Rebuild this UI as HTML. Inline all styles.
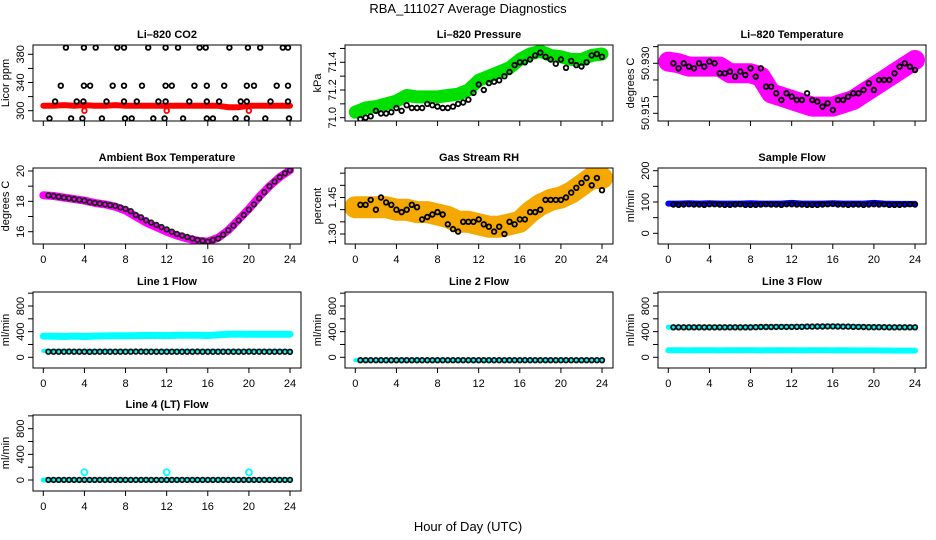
<!DOCTYPE html>
<html><head><meta charset="utf-8"><style>
html,body{margin:0;padding:0;background:#fff;}
svg{display:block;font-family:"Liberation Sans",sans-serif;}
</style></head><body>
<svg id="chart" width="936" height="540" viewBox="0 0 936 540">
<text x="468" y="13" text-anchor="middle" font-size="13">RBA_111027  Average Diagnostics</text>
<text x="468" y="531" text-anchor="middle" font-size="13">Hour of Day (UTC)</text>
</svg>
<script>
const hours = [0,1,2,3,4,5,6,7,8,9,10,11,12,13,14,15,16,17,18,19,20,21,22,23,24];
const halfHours = [0.5,1,1.5,2,2.5,3,3.5,4,4.5,5,5.5,6,6.5,7,7.5,8,8.5,9,9.5,10,10.5,11,11.5,12,12.5,13,13.5,14,14.5,15,15.5,16,16.5,17,17.5,18,18.5,19,19.5,20,20.5,21,21.5,22,22.5,23,23.5,24];
const xTicks = [0,4,8,12,16,20,24];

// CO2
const co2Band = [307,307,308,307,308,307,307,308,307,307,307,307,307,307,307,307,307,307,305,305,307,307,307,307,307];
const co2HighHours = [2.2,3.95,5.1,7.2,7.85,10.2,11.9,13.1,15.2,15.8,18.1,19.9,21.1,23.3,23.8];
const co2MidHours = [1.7,3.95,4.55,6.75,7.85,9.6,11.9,12.5,14.7,15.9,17.6,19.8,20.5,22.7,23.8];
const co2LowHours = [1.15,3.25,3.9,6.15,7.85,9.1,11.2,11.9,14.2,15.9,17.1,19.2,19.8,22.1,23.8];
const co2BottomHours = [0.6,2.7,3.8,5.7,7.95,8.6,10.7,11.8,13.6,15.9,16.5,18.7,19.8,21.6,23.9];
const co2Levels = [389.5,335.5,313,289];
const co2RedHours = [4,12,20];
const co2RedValue = 300;

// Pressure
const presBand = [71.04,71.07,71.08,71.10,71.12,71.16,71.15,71.15,71.15,71.16,71.17,71.20,71.27,71.30,71.33,71.36,71.42,71.46,71.48,71.45,71.44,71.42,71.42,71.45,71.46];
const presPts = [70.99,71.0,71.01,71.05,71.03,71.03,71.04,71.07,71.05,71.09,71.07,71.07,71.07,71.1,71.09,71.08,71.07,71.07,71.08,71.1,71.11,71.13,71.18,71.24,71.2,71.25,71.26,71.27,71.3,71.33,71.38,71.4,71.4,71.42,71.45,71.47,71.44,71.42,71.39,71.42,71.36,71.41,71.38,71.37,71.4,71.45,71.46,71.44];

// Li-820 temperature
const ltBand = [50.9305,50.930,50.929,50.929,50.929,50.929,50.927,50.927,50.927,50.926,50.921,50.920,50.919,50.918,50.917,50.917,50.917,50.918,50.919,50.921,50.923,50.925,50.927,50.929,50.931];
const ltPts = [50.930,50.9285,50.930,50.929,50.9285,50.930,50.929,50.9305,50.930,50.927,50.927,50.9275,50.926,50.9275,50.9265,50.9285,50.926,50.9285,50.923,50.923,50.921,50.919,50.921,50.920,50.919,50.919,50.921,50.919,50.9185,50.917,50.918,50.916,50.919,50.919,50.920,50.921,50.921,50.922,50.924,50.922,50.925,50.925,50.925,50.927,50.929,50.930,50.929,50.928];

// Ambient box temperature
const ambBand = [18.4,18.35,18.25,18.15,18.05,17.9,17.8,17.65,17.4,17.0,16.6,16.3,16.0,15.75,15.55,15.4,15.35,15.6,16.1,16.8,17.5,18.3,19.0,19.6,20.05];
const ambPts = [18.4,18.35,18.3,18.25,18.2,18.15,18.1,18.05,17.95,17.9,17.85,17.8,17.75,17.7,17.6,17.5,17.35,17.1,16.95,16.75,16.6,16.45,16.3,16.15,16.0,15.85,15.75,15.65,15.55,15.45,15.4,15.35,15.45,15.55,15.8,16.1,16.4,16.75,17.1,17.45,17.8,18.2,18.6,19.0,19.3,19.6,19.85,20.05];

// Gas stream RH
const rhBand = [1.41,1.41,1.41,1.41,1.40,1.40,1.39,1.39,1.38,1.37,1.35,1.35,1.34,1.33,1.33,1.34,1.35,1.39,1.42,1.44,1.45,1.47,1.50,1.53,1.53];
const rhPts = [1.42,1.42,1.44,1.40,1.45,1.43,1.42,1.40,1.39,1.40,1.42,1.41,1.36,1.37,1.38,1.39,1.38,1.34,1.32,1.31,1.35,1.35,1.35,1.36,1.34,1.33,1.31,1.33,1.30,1.35,1.34,1.36,1.36,1.39,1.39,1.40,1.44,1.44,1.44,1.44,1.45,1.47,1.49,1.51,1.53,1.50,1.53,1.48];

// Flows
const sampleBand = [95,95,96,95,96,95,95,95,96,95,95,95,97,95,95,95,96,95,95,95,97,95,94,94,94];
const samplePts = [92,91,92,93,92,92,91,93,93,92,91,91,92,93,91,91,91,92,93,92,92,91,93,93,92,92,91,91,91,92,93,94,92,92,91,92,92,91,92,93,92,93,91,91,91,92,93,92];
const line1Cyan = [330,328,325,330,325,330,333,335,335,338,340,342,338,345,345,343,340,350,360,362,360,358,358,360,358];
const line1CyanPts = [100,100,100,100,100,100,100,100,100,100,100,100,100,100,100,100,100,100,100,100,100,100,100,100,100];
const line1Black = [88,88,87,88,89,88,88,87,86,88,88,87,88,88,87,88,88,89,89,88,88,88,87,88,88,88,88,87,88,89,88,88,88,88,87,88,88,88,88,89,88,88,88,88,87,88,88,86];
const line2Cyan = [-45,-45,-45,-45,-45,-45,-45,-45,-45,-45,-45,-45,-45,-45,-45,-45,-45,-45,-45,-45,-45,-45,-45,-45,-45];
const line2Black = [-45,-45,-45,-45,-45,-45,-45,-45,-45,-45,-45,-45,-45,-45,-45,-45,-45,-45,-45,-45,-45,-45,-45,-45,-45,-45,-45,-45,-45,-45,-45,-45,-45,-45,-45,-45,-45,-45,-45,-45,-45,-45,-45,-45,-45,-45,-45,-45];
const line3CyanTop = [470,470,470,470,468,470,470,470,472,474,476,478,478,480,482,484,484,482,480,478,475,472,470,470,470];
const line3CyanLow = [110,110,108,110,110,108,110,110,110,108,110,110,110,108,110,110,108,110,108,108,108,106,105,104,104];
const line3Black = [468,468,468,468,468,468,468,468,468,468,468,468,468,468,468,468,470,472,472,472,474,474,474,474,476,476,478,478,480,480,482,482,480,478,478,476,474,472,470,470,470,470,468,468,468,468,468,468];
const line4Cyan = [0,0,0,0,0,0,0,0,0,0,0,0,0,0,0,0,0,0,0,0,0,0,0,0,0];
const line4Black = [2,2,2,2,2,2,2,2,2,2,2,2,2,2,2,2,2,2,2,2,2,2,2,2,2,2,2,2,2,2,2,2,2,2,2,2,2,2,2,2,2,2,2,2,2,2,2,2];
const line4SpikeHours = [4,12,20];
const line4SpikeValue = 120;

const NS = 'http://www.w3.org/2000/svg';
const svg = document.getElementById('chart');
function mk(tag, attrs, parent){ const e=document.createElementNS(NS,tag); for(const k in attrs) e.setAttribute(k,attrs[k]); (parent||svg).appendChild(e); return e; }

const colX = [33,345,658], rowY = [45,168,292,415], BW = 268, BH = 76, PXH = 10.28;

function panel(cfg){
  const bx = colX[cfg.col], by = rowY[cfg.row];
  const g = mk('g',{});
  
  
  const xs = h => bx + 10.3 + h*PXH;
  const ys = v => cfg.p0 + (v - cfg.v0) * (cfg.p1 - cfg.p0) / (cfg.v1 - cfg.v0);
  const clipId = 'clip-' + cfg.name;
  const cp = mk('clipPath',{id:clipId},g);
  mk('rect',{x:bx,y:by,width:BW,height:BH},cp);
  const plot = mk('g',{'clip-path':'url(#'+clipId+')'},g);
  
  
  cfg.series.forEach(s => {
    if (s.type === 'band') {
      const d = s.xs.map((h,i)=>(i?'L':'M')+xs(h).toFixed(1)+','+ys(s.ys[i]).toFixed(1)).join(' ');
      const p = mk('path',{d:d,fill:'none',stroke:s.color,'stroke-width':s.w,'stroke-linecap':'round','stroke-linejoin':'round'},plot);
      
      
    } else {
      s.xs.forEach((h,i)=>{
        const v = Array.isArray(s.ys) ? s.ys[i] : s.ys;
        const c = mk('circle',{cx:xs(h).toFixed(1),cy:ys(v).toFixed(1),r:s.r||2.3,fill:'none',stroke:s.color,'stroke-width':s.sw||1.8},plot);
        
        
      });
    }
  });
  const box = mk('rect',{x:bx,y:by,width:BW,height:BH,fill:'none',stroke:'#000','stroke-width':1},g);
  
  
  const t = mk('text',{x:bx+BW/2,y:by-7,'text-anchor':'middle','font-size':11,'font-weight':'bold'},g);
  t.textContent = cfg.title;
  
  
  const xa = mk('g',{},g);
  
  
  mk('line',{x1:xs(0),x2:xs(24),y1:by+BH,y2:by+BH,stroke:'#000'},xa);
  xTicks.forEach(h=>{
    mk('line',{x1:xs(h),x2:xs(h),y1:by+BH,y2:by+BH+5,stroke:'#000'},xa);
    if (cfg.xlabels) {
      const tl = mk('text',{x:xs(h),y:by+BH+19,'text-anchor':'middle','font-size':11},xa);
      tl.textContent = h;
      
      
    }
  });
  const ya = mk('g',{},g);
  
  
  const tp = cfg.yTicks.map(ys);
  mk('line',{x1:bx,x2:bx,y1:Math.min(...tp),y2:Math.max(...tp),stroke:'#000'},ya);
  cfg.yTicks.forEach(v=>{ mk('line',{x1:bx-5,x2:bx,y1:ys(v),y2:ys(v),stroke:'#000'},ya); });
  cfg.yLabels.forEach((v,i)=>{
    const yy = ys(v), xx = bx-9;
    const tl = mk('text',{x:xx,y:yy,'text-anchor':'middle','font-size':11,transform:'rotate(-90 '+xx+' '+yy+')'},ya);
    tl.textContent = cfg.yLabelText[i];
    
    
  });
  const yl = mk('text',{x:bx-24,y:by+BH/2,'text-anchor':'middle','font-size':11,transform:'rotate(-90 '+(bx-24)+' '+(by+BH/2)+')'},g);
  yl.textContent = cfg.ylab;
  
  
}

const BLK = '#000', CYAN = '#00ffff';
panel({name:'co2-panel',title:'Li\u2013820 CO2',ylab:'Licor ppm',col:0,row:0,xlabels:false,v0:300,p0:110.7,v1:380,p1:54.3,
  yTicks:[300,320,340,360,380],yLabels:[300,340,380],yLabelText:['300','340','380'],
  series:[{type:'band',name:'co2-red-band',xs:hours,ys:co2Band,color:'#ff0000',w:6},
    {type:'pts',name:'co2-red-point',xs:co2RedHours,ys:co2RedValue,color:'#ff0000'},
    {type:'pts',name:'co2-point',xs:co2HighHours,ys:co2Levels[0],color:BLK},
    {type:'pts',name:'co2-point',xs:co2MidHours,ys:co2Levels[1],color:BLK},
    {type:'pts',name:'co2-point',xs:co2LowHours,ys:co2Levels[2],color:BLK},
    {type:'pts',name:'co2-point',xs:co2BottomHours,ys:co2Levels[3],color:BLK}]});
panel({name:'pressure-panel',title:'Li\u2013820 Pressure',ylab:'kPa',col:1,row:0,xlabels:false,v0:71.0,p0:117.7,v1:71.4,p1:62.3,
  yTicks:[71.0,71.1,71.2,71.3,71.4,71.5],yLabels:[71.0,71.2,71.4],yLabelText:['71.0','71.2','71.4'],
  series:[{type:'band',name:'pressure-band',xs:hours,ys:presBand,color:'#00e000',w:13},
    {type:'pts',name:'pressure-point',xs:halfHours,ys:presPts,color:BLK}]});
panel({name:'li-temp-panel',title:'Li\u2013820 Temperature',ylab:'degrees C',col:2,row:0,xlabels:false,v0:50.915,p0:113.3,v1:50.930,p1:63.3,
  yTicks:[50.915,50.920,50.925,50.930,50.935],yLabels:[50.915,50.930],yLabelText:['50.915','50.930'],
  series:[{type:'band',name:'li-temp-band',xs:hours,ys:ltBand,color:'#ff00ff',w:20},
    {type:'pts',name:'li-temp-point',xs:halfHours,ys:ltPts,color:BLK}]});
panel({name:'ambient-panel',title:'Ambient Box Temperature',ylab:'degrees C',col:0,row:1,xlabels:true,v0:16,p0:231.7,v1:20,p1:171,
  yTicks:[16,17,18,19,20],yLabels:[16,18,20],yLabelText:['16','18','20'],
  series:[{type:'band',name:'ambient-band',xs:hours,ys:ambBand,color:'#ff00ff',w:8},
    {type:'pts',name:'ambient-point',xs:halfHours,ys:ambPts,color:'#222'}]});
panel({name:'rh-panel',title:'Gas Stream RH',ylab:'percent',col:1,row:1,xlabels:true,v0:1.30,p0:234,v1:1.45,p1:197.5,
  yTicks:[1.30,1.35,1.40,1.45,1.50,1.55],yLabels:[1.30,1.45],yLabelText:['1.30','1.45'],
  series:[{type:'band',name:'rh-band',xs:hours,ys:rhBand,color:'#f4a800',w:22},
    {type:'pts',name:'rh-point',xs:halfHours,ys:rhPts,color:BLK}]});
panel({name:'sample-flow-panel',title:'Sample Flow',ylab:'ml/min',col:2,row:1,xlabels:true,v0:0,p0:233.3,v1:200,p1:170.7,
  yTicks:[0,50,100,150,200],yLabels:[0,100,200],yLabelText:['0','100','200'],
  series:[{type:'band',name:'sample-flow-band',xs:hours,ys:sampleBand,color:'#0000ff',w:6},
    {type:'pts',name:'sample-flow-point',xs:halfHours,ys:samplePts,color:BLK}]});
const flowTicks = [0,200,400,600,800,1000];
panel({name:'line1-flow-panel',title:'Line 1 Flow',ylab:'ml/min',col:0,row:2,xlabels:true,v0:0,p0:357.3,v1:800,p1:306,
  yTicks:flowTicks,yLabels:[0,400,800],yLabelText:['0','400','800'],
  series:[{type:'band',name:'line1-cyan-band',xs:hours,ys:line1Cyan,color:CYAN,w:7},
    {type:'band',name:'line1-cyan-low',xs:hours,ys:line1CyanPts,color:CYAN,w:4},
    {type:'pts',name:'line1-point',xs:halfHours,ys:line1Black,color:'#111'}]});
panel({name:'line2-flow-panel',title:'Line 2 Flow',ylab:'ml/min',col:1,row:2,xlabels:true,v0:0,p0:357.3,v1:800,p1:306,
  yTicks:flowTicks,yLabels:[0,400,800],yLabelText:['0','400','800'],
  series:[{type:'band',name:'line2-cyan-band',xs:hours,ys:line2Cyan,color:CYAN,w:4},
    {type:'pts',name:'line2-point',xs:halfHours,ys:line2Black,color:'#111'}]});
panel({name:'line3-flow-panel',title:'Line 3 Flow',ylab:'ml/min',col:2,row:2,xlabels:true,v0:0,p0:357.3,v1:800,p1:306,
  yTicks:flowTicks,yLabels:[0,400,800],yLabelText:['0','400','800'],
  series:[{type:'band',name:'line3-cyan-top',xs:hours,ys:line3CyanTop,color:CYAN,w:5},
    {type:'band',name:'line3-cyan-low',xs:hours,ys:line3CyanLow,color:CYAN,w:6},
    {type:'pts',name:'line3-point',xs:halfHours,ys:line3Black,color:'#111'}]});
panel({name:'line4-flow-panel',title:'Line 4 (LT) Flow',ylab:'ml/min',col:0,row:3,xlabels:true,v0:0,p0:480,v1:800,p1:428.7,
  yTicks:flowTicks,yLabels:[0,400,800],yLabelText:['0','400','800'],
  series:[{type:'band',name:'line4-cyan-band',xs:hours,ys:line4Cyan,color:CYAN,w:5},
    {type:'pts',name:'line4-spike',xs:line4SpikeHours,ys:line4SpikeValue,color:CYAN,r:3},
    {type:'pts',name:'line4-point',xs:halfHours,ys:line4Black,color:'#111'}]});
</script>
</body></html>
